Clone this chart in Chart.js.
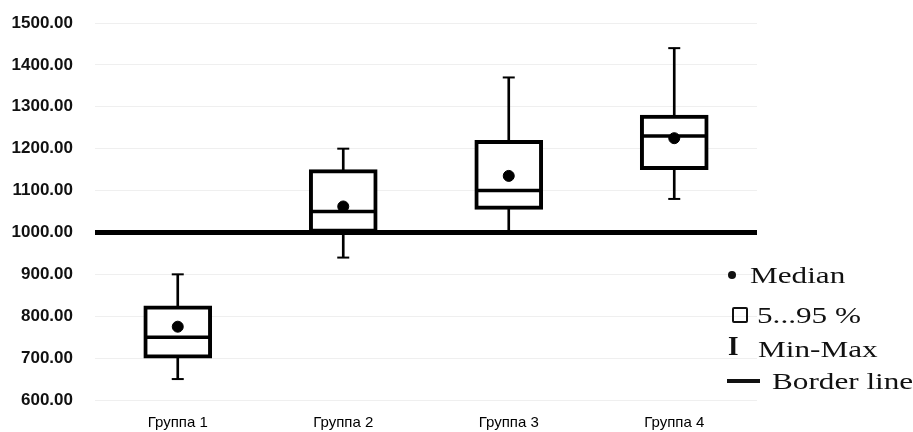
<!DOCTYPE html>
<html>
<head>
<meta charset="utf-8">
<script src="https://cdn.jsdelivr.net/npm/chart.js@4.4.0/dist/chart.umd.min.js"></script>
<style>
    body { margin: 0; background: #fff; }
    #wrap { position: relative; width: 913px; height: 432px; }
    #legend { position: absolute; left: 0; top: 0; width: 913px; height: 432px; pointer-events: none;
        font-family: "Liberation Serif", "Times New Roman", serif; font-size: 24px; color: #111; }
    .item { position: absolute; white-space: nowrap; transform-origin: left center; transform: scaleX(1.3); line-height: 24px; }
    .sym { position: absolute; }
</style>
</head>
<body>
<div id="wrap">
    <canvas id="myChart" width="913" height="432"></canvas>
    <div id="legend">
        <div class="sym" style="left:728px;top:271px;width:8px;height:8px;border-radius:50%;background:#111"></div>
        <div class="item" style="left:750px;top:263px">Median</div>
        <div class="sym" style="left:732px;top:307px;width:12px;height:12px;border:2px solid #111;border-radius:2px"></div>
        <div class="item" style="left:757px;top:303px">5...95 %</div>
        <div class="sym" style="left:728px;top:333px;font-weight:bold;font-size:27px;line-height:27px">I</div>
        <div class="item" style="left:758px;top:337px">Min-Max</div>
        <div class="sym" style="left:727px;top:379px;width:33px;height:4px;background:#111"></div>
        <div class="item" style="left:772px;top:369px">Border line</div>
    </div>
</div>
<script>
let groups = ["Группа 1", "Группа 2", "Группа 3", "Группа 4"];
let minVals = [650, 940, 1000, 1080];
let maxVals = [900, 1200, 1370, 1440];
let lowVals = [700, 1000, 1055, 1150];   // 5 %
let highVals = [825, 1150, 1220, 1280];  // 95 %
let midLine = [750, 1050, 1100, 1230];
let medianDots = [775, 1062, 1135, 1225];
let borderValue = 1000;

let whiskers = [];
let boxes = [];
for (let i = 0; i < groups.length; i++) {
    whiskers.push([minVals[i], maxVals[i]]);
    boxes.push([lowVals[i], highVals[i]]);
}

let data = {
    labels: groups,
    datasets: [
        {
            type: 'line',
            label: 'dots',
            data: medianDots,
            showLine: false,
            pointStyle: 'circle',
            pointRadius: 5.5,
            backgroundColor: '#000',
            borderColor: '#000',
            order: 0
        },
        {
            type: 'line',
            label: 'mid',
            data: midLine,
            showLine: false,
            pointStyle: 'line',
            pointRadius: 33,
            borderWidth: 3.5,
            borderColor: '#000',
            order: 1
        },
        {
            type: 'bar',
            label: 'box',
            data: boxes,
            backgroundColor: '#fff',
            borderColor: '#000',
            borderWidth: 4,
            borderSkipped: false,
            barThickness: 68,
            grouped: false,
            order: 2
        },
        {
            type: 'line',
            label: 'capMax',
            data: maxVals,
            showLine: false,
            pointStyle: 'line',
            pointRadius: 6,
            borderWidth: 2,
            borderColor: '#000',
            order: 3
        },
        {
            type: 'line',
            label: 'capMin',
            data: minVals,
            showLine: false,
            pointStyle: 'line',
            pointRadius: 6,
            borderWidth: 2,
            borderColor: '#000',
            order: 3
        },
        {
            type: 'bar',
            label: 'whisker',
            data: whiskers,
            backgroundColor: '#000',
            barThickness: 2,
            grouped: false,
            order: 4
        }
    ]
};

let config = {
    type: 'bar',
    data: data,
    options: {
        responsive: false,
        animation: false,
        layout: { autoPadding: false, padding: { left: 12, right: 156, top: 23, bottom: 0 } },
        plugins: { legend: { display: false }, tooltip: { enabled: false } },
        scales: {
            x: {
                grid: { display: false, drawTicks: false },
                border: { display: false },
                afterFit: s => { s.height = 32; },
                ticks: { color: '#000', padding: 14, font: { family: 'Liberation Sans', size: 15 } }
            },
            y: {
                min: 600,
                max: 1500,
                border: { display: false },
                afterFit: s => { s.width = 83; s.paddingTop = 0; s.paddingBottom = 0; },
                grid: {
                    drawTicks: false,
                    color: ctx => ctx.tick && ctx.tick.value === borderValue ? '#000' : '#efefef',
                    lineWidth: ctx => ctx.tick && ctx.tick.value === borderValue ? 5 : 1
                },
                ticks: {
                    stepSize: 100,
                    padding: 22,
                    color: '#111',
                    font: { family: 'Liberation Sans', size: 17, weight: 'bold' },
                    callback: v => v.toFixed(2)
                }
            }
        }
    }
};

let myChart = new Chart(document.getElementById('myChart'), config);
</script>
</body>
</html>
